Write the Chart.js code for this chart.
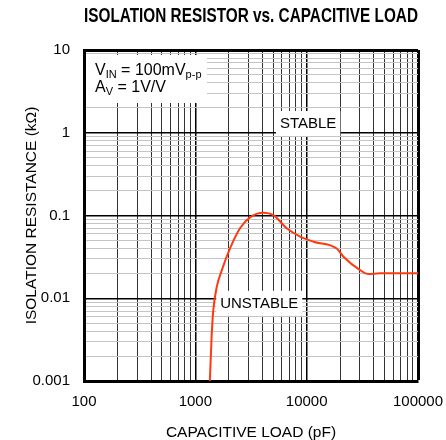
<!DOCTYPE html>
<html>
<head>
<meta charset="utf-8">
<script src="https://cdn.jsdelivr.net/npm/chart.js@4.4.0/dist/chart.umd.min.js"></script>
<style>
  html, body { margin: 0; padding: 0; background: #fff; }
</style>
</head>
<body>
<canvas id="chart" width="446" height="440"></canvas>
<script>
// isolation resistance vs capacitive load
const capLoad = [1350, 1400, 1450, 1560, 1730, 2050, 2520, 3100, 4080, 5030, 6620, 8730, 11500, 18600, 21400, 30200, 35800, 45700, 100000];
const isoRes = [0.001, 0.0034, 0.0072, 0.0138, 0.0219, 0.040, 0.070, 0.095, 0.108, 0.101, 0.070, 0.0555, 0.0482, 0.040, 0.0318, 0.0219, 0.0196, 0.020, 0.020];

const xDecades = [100, 1000, 10000, 100000];
const yDecades = [0.001, 0.01, 0.1, 1, 10];
const xTickLabels = ['100', '1000', '10000', '100000'];
const yTickLabels = ['0.001', '0.01', '0.1', '1', '10'];

const FONT = "'Liberation Sans Narrow', 'Arial Narrow', 'Liberation Sans', Arial, sans-serif";

// 1..9 x each decade, for the grid
function gridValues(decades) {
    const out = [];
    decades.forEach((d, i) => {
        if (i === decades.length - 1) { out.push(d); return; }
        for (let k = 1; k < 10; k++) out.push(+(d * k).toPrecision(3));
    });
    return out;
}

function isDecade(v, decades) {
    return decades.some(d => Math.abs(v / d - 1) < 1e-6);
}

function labelFor(v, decades, labels) {
    const i = decades.findIndex(d => Math.abs(v / d - 1) < 1e-6);
    return i >= 0 ? labels[i] : '';
}

// white label boxes + text that sit on top of the grid
const notes = {
    id: 'notes',
    beforeDatasetsDraw(chart) {
        const { ctx, chartArea, scales: { x, y } } = chart;
        ctx.save();
        ctx.fillStyle = '#fff';
        // condition box, top-left
        ctx.fillRect(chartArea.left + 2, chartArea.top + 5, 121, 48);

        ctx.font = '15px ' + FONT;
        ctx.textBaseline = 'middle';
        ctx.textAlign = 'center';
        const boxes = [
            { text: 'STABLE', cx: x.getPixelForValue(10300), cy: y.getPixelForValue(1.31) },
            { text: 'UNSTABLE', cx: x.getPixelForValue(3750), cy: y.getPixelForValue(0.0088) }
        ];
        boxes.forEach(b => {
            const w = ctx.measureText(b.text).width + 8;
            ctx.fillStyle = '#fff';
            ctx.fillRect(b.cx - w / 2, b.cy - 12, w, 25);
            ctx.fillStyle = '#000';
            ctx.fillText(b.text, b.cx, b.cy + 1);
        });

        // V_IN = 100mV_p-p / A_V = 1V/V
        ctx.textAlign = 'left';
        ctx.textBaseline = 'alphabetic';
        const runs = [
            [['V', 0], ['IN', 1], [' = 100mV', 0], ['p-p', 1]],
            [['A', 0], ['V', 1], [' = 1V/V', 0]]
        ];
        runs.forEach((line, li) => {
            let px = chartArea.left + 11;
            const base = chartArea.top + 25 + li * 17;
            line.forEach(([t, sub]) => {
                ctx.font = (sub ? '11px ' : '16px ') + FONT;
                ctx.fillText(t, px, base + (sub ? 3 : 0));
                px += ctx.measureText(t).width;
            });
        });
        ctx.restore();
    }
};

new Chart(document.getElementById('chart'), {
    type: 'line',
    data: {
        datasets: [{
            data: capLoad.map((c, i) => ({ x: c, y: isoRes[i] })),
            borderColor: '#ff3a10',
            borderWidth: 2,
            pointRadius: 0,
            cubicInterpolationMode: 'monotone',
            fill: false
        }]
    },
    options: {
        responsive: false,
        animation: false,
        layout: { padding: { left: 0, right: 28, top: 0, bottom: 0 } },
        plugins: {
            legend: { display: false },
            tooltip: { enabled: false },
            title: {
                display: true,
                text: 'ISOLATION RESISTOR vs. CAPACITIVE LOAD',
                fullSize: false,
                color: '#000',
                font: { family: FONT, size: 20.5, weight: 'bold', lineHeight: 1.2 },
                padding: { top: 4, bottom: 21.4 }
            }
        },
        scales: {
            x: {
                type: 'logarithmic',
                min: 100,
                max: 100000,
                afterBuildTicks: s => { s.ticks = gridValues(xDecades).map(v => ({ value: v })); },
                afterFit: s => { s.height = 59; s.paddingLeft = 0; s.paddingRight = 0; },
                border: { color: '#000', width: 3 },
                grid: {
                    drawTicks: false,
                    color: c => isDecade(c.tick.value, xDecades) ? '#000' : '#333',
                    lineWidth: c => c.tick.value === 100000 ? 3 : (isDecade(c.tick.value, xDecades) ? 1.5 : 1)
                },
                ticks: {
                    autoSkip: false,
                    maxRotation: 0,
                    padding: 12,
                    color: '#000',
                    font: { family: FONT, size: 15 },
                    callback: v => labelFor(v, xDecades, xTickLabels)
                },
                title: {
                    display: true,
                    text: 'CAPACITIVE LOAD (pF)',
                    color: '#000',
                    font: { family: FONT, size: 15.5, lineHeight: 1 },
                    padding: { top: 0, bottom: 0 }
                }
            },
            y: {
                type: 'logarithmic',
                min: 0.001,
                max: 10,
                afterBuildTicks: s => { s.ticks = gridValues(yDecades).map(v => ({ value: v })); },
                afterFit: s => { s.width = 84; s.paddingTop = 0; s.paddingBottom = 0; },
                border: { color: '#000', width: 3 },
                grid: {
                    drawTicks: false,
                    color: c => isDecade(c.tick.value, yDecades) ? '#000' : '#c4c4c4',
                    lineWidth: c => c.tick.value === 10 ? 3 : (isDecade(c.tick.value, yDecades) ? 1.5 : 1)
                },
                ticks: {
                    autoSkip: false,
                    padding: 14,
                    color: '#000',
                    font: { family: FONT, size: 15 },
                    callback: v => labelFor(v, yDecades, yTickLabels)
                },
                title: {
                    display: true,
                    text: 'ISOLATION RESISTANCE (kΩ)',
                    color: '#000',
                    font: { family: FONT, size: 15.5, lineHeight: 1 },
                    padding: { top: 24, bottom: 0 }
                }
            }
        }
    },
    plugins: [notes]
});
</script>
</body>
</html>
